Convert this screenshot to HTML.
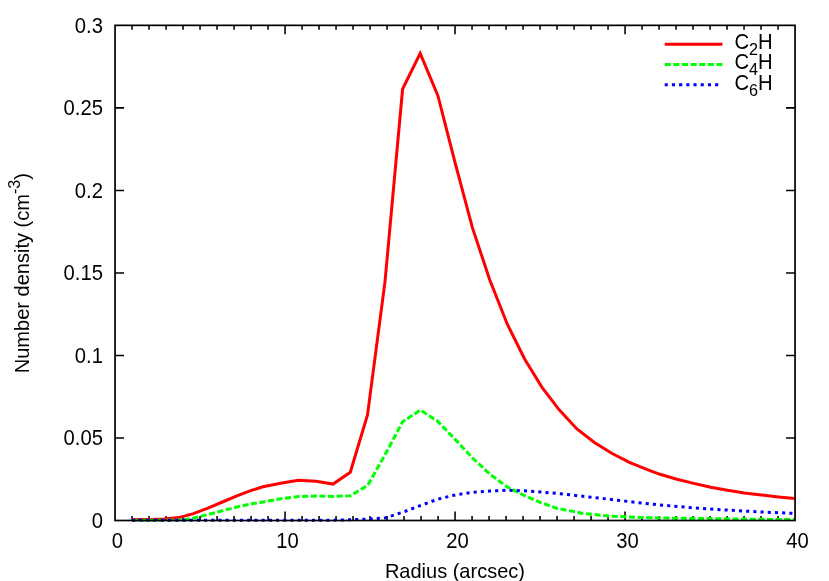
<!DOCTYPE html>
<html><head><meta charset="utf-8"><title>plot</title>
<style>
html,body{margin:0;padding:0;background:#fff;}
body{width:829px;height:581px;overflow:hidden;}
svg{display:block;will-change:transform;}
text{font-family:"Liberation Sans",sans-serif;font-size:20px;fill:#000;}
</style></head><body>
<svg width="829" height="581" viewBox="0 0 829 581">
<rect x="0" y="0" width="829" height="581" fill="#fff"/>
<path d="M132.05,520.50 v-4.50 M132.05,25.35 v4.50 M149.05,520.50 v-4.50 M149.05,25.35 v4.50 M166.05,520.50 v-4.50 M166.05,25.35 v4.50 M183.05,520.50 v-4.50 M183.05,25.35 v4.50 M200.05,520.50 v-4.50 M200.05,25.35 v4.50 M217.05,520.50 v-4.50 M217.05,25.35 v4.50 M234.05,520.50 v-4.50 M234.05,25.35 v4.50 M251.05,520.50 v-4.50 M251.05,25.35 v4.50 M268.05,520.50 v-4.50 M268.05,25.35 v4.50 M285.05,520.50 v-9.00 M285.05,25.35 v9.00 M302.05,520.50 v-4.50 M302.05,25.35 v4.50 M319.05,520.50 v-4.50 M319.05,25.35 v4.50 M336.05,520.50 v-4.50 M336.05,25.35 v4.50 M353.05,520.50 v-4.50 M353.05,25.35 v4.50 M370.05,520.50 v-4.50 M370.05,25.35 v4.50 M387.05,520.50 v-4.50 M387.05,25.35 v4.50 M404.05,520.50 v-4.50 M404.05,25.35 v4.50 M421.05,520.50 v-4.50 M421.05,25.35 v4.50 M438.05,520.50 v-4.50 M438.05,25.35 v4.50 M455.05,520.50 v-9.00 M455.05,25.35 v9.00 M472.05,520.50 v-4.50 M472.05,25.35 v4.50 M489.05,520.50 v-4.50 M489.05,25.35 v4.50 M506.05,520.50 v-4.50 M506.05,25.35 v4.50 M523.05,520.50 v-4.50 M523.05,25.35 v4.50 M540.05,520.50 v-4.50 M540.05,25.35 v4.50 M557.05,520.50 v-4.50 M557.05,25.35 v4.50 M574.05,520.50 v-4.50 M574.05,25.35 v4.50 M591.05,520.50 v-4.50 M591.05,25.35 v4.50 M608.05,520.50 v-4.50 M608.05,25.35 v4.50 M625.05,520.50 v-9.00 M625.05,25.35 v9.00 M642.05,520.50 v-4.50 M642.05,25.35 v4.50 M659.05,520.50 v-4.50 M659.05,25.35 v4.50 M676.05,520.50 v-4.50 M676.05,25.35 v4.50 M693.05,520.50 v-4.50 M693.05,25.35 v4.50 M710.05,520.50 v-4.50 M710.05,25.35 v4.50 M727.05,520.50 v-4.50 M727.05,25.35 v4.50 M744.05,520.50 v-4.50 M744.05,25.35 v4.50 M761.05,520.50 v-4.50 M761.05,25.35 v4.50 M778.05,520.50 v-4.50 M778.05,25.35 v4.50 M115.05,437.98 h9 M795.05,437.98 h-9 M115.05,355.45 h9 M795.05,355.45 h-9 M115.05,272.92 h9 M795.05,272.92 h-9 M115.05,190.40 h9 M795.05,190.40 h-9 M115.05,107.88 h9 M795.05,107.88 h-9" fill="none" stroke="#000" stroke-width="1.55"/>
<text transform="translate(102.9,527.8) scale(1.012,1.065)" text-anchor="end">0</text>
<text transform="translate(102.9,445.3) scale(1.012,1.065)" text-anchor="end">0.05</text>
<text transform="translate(102.9,362.8) scale(1.012,1.065)" text-anchor="end">0.1</text>
<text transform="translate(102.9,280.2) scale(1.012,1.065)" text-anchor="end">0.15</text>
<text transform="translate(102.9,197.7) scale(1.012,1.065)" text-anchor="end">0.2</text>
<text transform="translate(102.9,115.2) scale(1.012,1.065)" text-anchor="end">0.25</text>
<text transform="translate(102.9,32.6) scale(1.012,1.065)" text-anchor="end">0.3</text>
<text transform="translate(117.5,547.6) scale(1.012,1.065)" text-anchor="middle">0</text>
<text transform="translate(287.6,547.6) scale(1.012,1.065)" text-anchor="middle">10</text>
<text transform="translate(457.6,547.6) scale(1.012,1.065)" text-anchor="middle">20</text>
<text transform="translate(627.5,547.6) scale(1.012,1.065)" text-anchor="middle">30</text>
<text transform="translate(797.5,547.6) scale(1.012,1.065)" text-anchor="middle">40</text>

<text transform="translate(454.9,577.8) scale(1,1.05)" text-anchor="middle">Radius (arcsec)</text>
<text transform="translate(28.7,273.2) rotate(-90) scale(1.003,1.05)" text-anchor="middle">Number density (cm<tspan font-size="16" dy="-8.2">-3</tspan><tspan dy="8.2">)</tspan></text>
<g fill="none" stroke-width="3" stroke-linejoin="miter" stroke-linecap="butt">
<path d="M132.0,519.4 L150.0,519.4 L164.5,518.9 L179.0,517.6 L193.4,513.6 L207.9,508.2 L222.4,502.0 L236.9,495.9 L251.3,490.4 L263.0,486.8 L280.7,483.2 L298.4,480.2 L316.1,481.2 L333.0,484.1 L350.3,472.2 L367.5,415.0 L385.0,281.6 L402.6,89.0 L420.2,53.3 L437.9,95.7 L455.0,162.4 L472.4,227.6 L489.8,280.0 L507.2,324.0 L524.6,359.0 L542.0,387.3 L559.2,409.8 L576.9,428.9 L594.4,442.4 L612.2,453.5 L629.4,462.3 L646.7,469.4 L660.0,474.3 L676.9,479.2 L693.8,483.4 L710.7,487.3 L727.6,490.3 L744.4,492.9 L761.3,494.9 L778.2,496.9 L795.0,498.6" stroke="#ff0000"/>
<path d="M132.0,520.3 L160.0,520.3 L172.0,520.0 L179.0,520.0 L186.2,519.5 L193.4,518.1 L207.9,514.6 L222.4,510.7 L236.9,507.0 L251.3,503.9 L263.0,501.9 L280.7,498.8 L298.4,496.5 L316.0,496.0 L333.0,496.5 L350.3,495.8 L367.7,485.4 L385.3,454.3 L402.6,421.8 L420.3,410.1 L437.6,421.1 L455.4,439.6 L472.6,458.0 L489.9,474.2 L507.2,486.9 L524.5,495.6 L540.0,502.3 L556.5,508.2 L583.0,513.4 L609.6,516.1 L640.0,517.5 L670.0,518.1 L690.0,518.4 L720.0,518.8 L760.0,519.3 L795.0,519.6" stroke="#00ff00" stroke-dasharray="6.1 2.53"/>
<path d="M132.0,520.2 L330.0,520.2 L350.3,519.8 L367.7,519.1 L385.5,517.8 L402.9,512.2 L420.3,505.6 L437.8,499.2 L455.4,494.9 L472.6,492.4 L489.9,491.0 L507.2,490.3 L524.5,490.8 L540.0,491.9 L560.0,493.7 L600.0,498.2 L630.0,501.7 L660.0,505.0 L693.8,507.9 L727.6,510.1 L761.3,512.0 L795.0,513.4" stroke="#0000ff" stroke-dasharray="3.1 4.1"/>
<path d="M664.7,44.3 H722.4" stroke="#ff0000"/>
<path d="M664.7,64.5 H722.4" stroke="#00ff00" stroke-dasharray="6.1 2.53"/>
<path d="M664.7,84.75 H718.5" stroke="#0000ff" stroke-dasharray="3.1 4.1"/>
</g>
<g fill="none" stroke="#000" stroke-width="1.7">
<rect x="115.05" y="25.35" width="680.0" height="495.15"/>
</g>
<text transform="translate(734.4,48.7) scale(1.012,1.065)">C<tspan font-size="16" dy="5.6">2</tspan><tspan dy="-5.6">H</tspan></text>
<text transform="translate(734.4,69.1) scale(1.012,1.065)">C<tspan font-size="16" dy="5.6">4</tspan><tspan dy="-5.6">H</tspan></text>
<text transform="translate(734.4,89.6) scale(1.012,1.065)">C<tspan font-size="16" dy="5.6">6</tspan><tspan dy="-5.6">H</tspan></text>
</svg>
</body></html>
